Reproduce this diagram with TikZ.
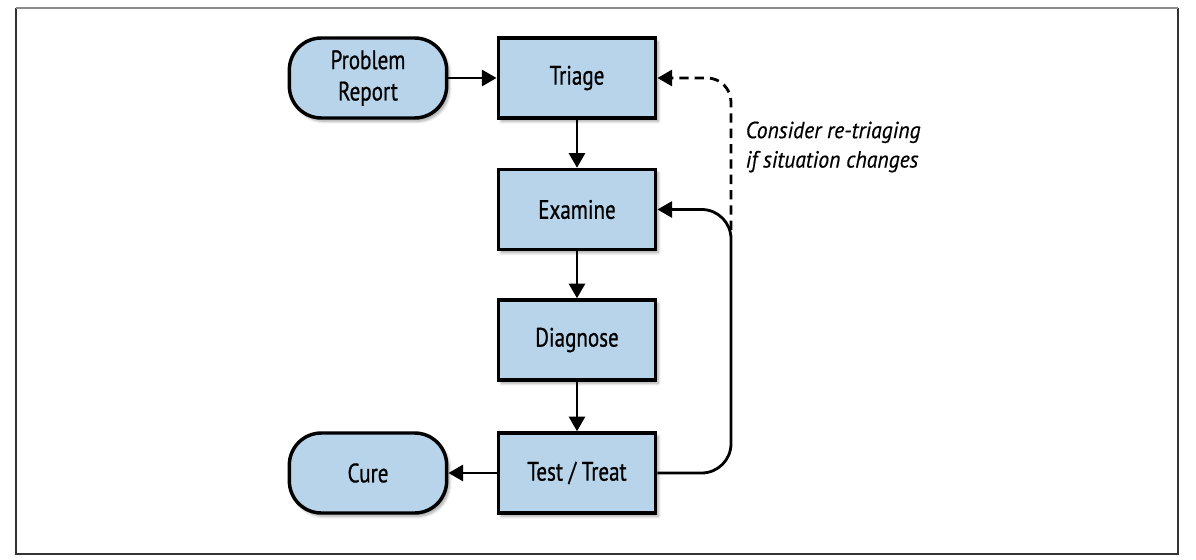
\documentclass[tikz,border=0pt]{standalone}
\usepackage{fontspec}
\setmainfont[FakeStretch=0.79,FakeBold=0.7]{PT Sans}
\newfontfamily\notefont[FakeStretch=0.93,FakeBold=0.5]{PT Sans}
\usetikzlibrary{arrows.meta,shadows.blur}
\definecolor{boxblue}{RGB}{184,212,234}
\tikzset{
  box/.style={draw=black, fill=boxblue, line width=2.6pt, minimum width=118pt, minimum height=60pt,
    align=center, font=\fontsize{20}{23.5}\selectfont,
    blur shadow={shadow xshift=2pt, shadow yshift=-2.5pt, shadow blur steps=6, shadow opacity=35}},
  pill/.style={box, rounded corners=24pt},
  link/.style={line width=2.1pt, -{Triangle[length=11pt,width=12pt]}},
  dlink/.style={link, dash pattern=on 7pt off 4.5pt},
}
\begin{document}
\begin{tikzpicture}[x=0.75pt,y=-0.75pt]
\useasboundingbox (0,0) rectangle (1196,560);
\draw[line width=1.2pt, black!80] (16,8) -- (16,554) -- (1178,554) -- (1178,8);
\draw[line width=1.2pt, black!45] (16,8) -- (1178,8);

\node[pill] (pr) at (368,78) {Problem\\Report};
\node[box] (triage) at (577,78) {Triage};
\node[box] (examine) at (577,209.5) {Examine};
\node[box] (diagnose) at (577,340) {Diagnose};
\node[box] (test) at (577,473) {Test / Treat};
\node[pill] (cure) at (368,473) {Cure};

\coordinate (fbx) at (731,0);
\coordinate (dstart) at (731,230);

\draw[link] (pr) -- (triage);
\draw[link] (triage) -- (examine);
\draw[link] (examine) -- (diagnose);
\draw[link] (diagnose) -- (test);
\draw[link] (test) -- (cure);
\draw[link, rounded corners=22pt] (test.east) -- (test.east -| fbx) -- (examine.east -| fbx) -- (examine.east);
\draw[dlink, rounded corners=18pt] (dstart) |- (triage.east);

\node[anchor=west, align=left, font=\fontsize{17.5}{22}\selectfont\notefont\itshape] (note) at (741,147) {Consider re-triaging\\if situation changes};
\end{tikzpicture}
\end{document}
